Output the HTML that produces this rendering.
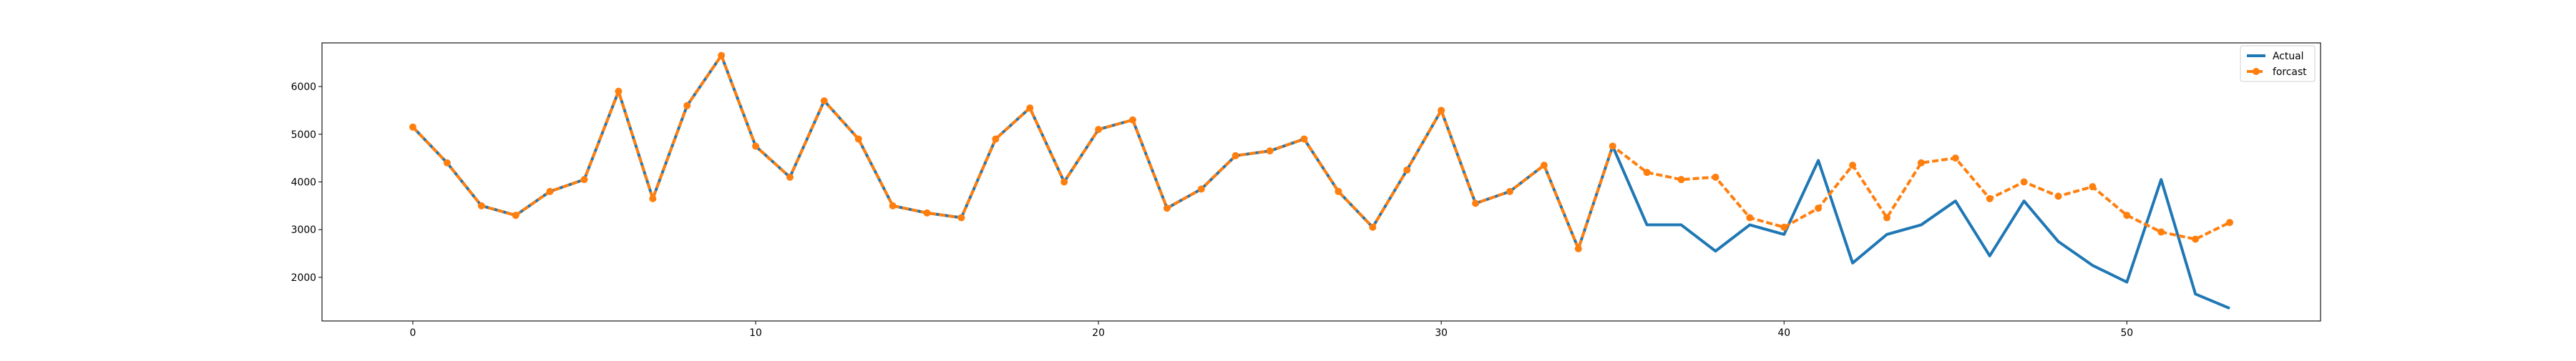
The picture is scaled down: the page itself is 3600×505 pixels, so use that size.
<!DOCTYPE html>
<html><head><meta charset="utf-8"><style>
html,body{margin:0;padding:0;background:#fff;}
svg text{font-family:"DejaVu Sans","Liberation Sans",sans-serif;font-size:13.9px;fill:#000;}
</style></head><body>
<svg id="chart" width="3600" height="500" xmlns="http://www.w3.org/2000/svg">
<rect x="0" y="0" width="3600" height="500" fill="#fff"/>
<g id="plot"></g>
<g id="axes"></g>
<g id="legend">
  <rect x="3131" y="64" width="104" height="50" rx="3" fill="#fff" stroke="#ccc" stroke-width="1" opacity="0.9"/>
  <line x1="3140" y1="78" x2="3166" y2="78" stroke="#1f77b4" stroke-width="4"/>
  <text x="3176" y="83">Actual</text>
  <line x1="3140" y1="100" x2="3166" y2="100" stroke="#ff7f0e" stroke-width="4" stroke-dasharray="9,4"/>
  <circle cx="3153" cy="100" r="5" fill="#ff7f0e"/>
  <text x="3176" y="105">forcast</text>
</g>
</svg>
<script>
const actual = [5150,4400,3500,3300,3800,4050,5900,3650,5600,6650,4750,4100,5700,4900,3500,3350,3250,4900,5550,4000,5100,5300,3450,3850,4550,4650,4900,3800,3050,4250,5500,3550,3800,4350,2600,4750,3100,3100,2550,3100,2900,4450,2300,2900,3100,3600,2450,3600,2750,2250,1900,4050,1650,1350];
const forecast = [5150,4400,3500,3300,3800,4050,5900,3650,5600,6650,4750,4100,5700,4900,3500,3350,3250,4900,5550,4000,5100,5300,3450,3850,4550,4650,4900,3800,3050,4250,5500,3550,3800,4350,2600,4750,4200,4050,4100,3250,3050,3450,4350,3250,4400,4500,3650,4000,3700,3900,3300,2950,2800,3150];
const xTicks = [0,10,20,30,40,50];
const yTicks = [2000,3000,4000,5000,6000];

const L=450,R=3243,T=60,B=449;
const xMin=-2.65,xMax=55.65,yMin=1085,yMax=6915;
const sx=v=>L+(v-xMin)/(xMax-xMin)*(R-L);
const sy=v=>B-(v-yMin)/(yMax-yMin)*(B-T);
const NS='http://www.w3.org/2000/svg';
const plot=document.getElementById('plot'), axes=document.getElementById('axes');
function mk(tag,attrs,parent){const e=document.createElementNS(NS,tag);for(const k in attrs)e.setAttribute(k,attrs[k]);parent.appendChild(e);return e;}

const pa=actual.map((v,i)=>sx(i)+','+sy(v)).join(' ');
const la=mk('polyline',{points:pa,fill:'none',stroke:'#1f77b4','stroke-width':4,'stroke-linejoin':'round'},plot);


const pf=forecast.map((v,i)=>sx(i)+','+sy(v)).join(' ');
const lf=mk('polyline',{points:pf,fill:'none',stroke:'#ff7f0e','stroke-width':4,'stroke-dasharray':'9,4'},plot);


forecast.forEach((v,i)=>{
  const c=mk('circle',{cx:sx(i),cy:sy(v),r:5,fill:'#ff7f0e'},plot);
  
  
});

const frame=mk('rect',{x:L,y:T,width:R-L,height:B-T,fill:'none',stroke:'#000','stroke-width':1.1},axes);


xTicks.forEach(t=>{
  const x=sx(t);
  mk('line',{x1:x,y1:B,x2:x,y2:B+5,stroke:'#000','stroke-width':1},axes);
  const tx=mk('text',{x:x,y:B+21,'text-anchor':'middle'},axes);
  tx.textContent=t;
  
  
});
yTicks.forEach(t=>{
  const y=sy(t);
  mk('line',{x1:L-5,y1:y,x2:L,y2:y,stroke:'#000','stroke-width':1},axes);
  const tx=mk('text',{x:L-8,y:y+5,'text-anchor':'end'},axes);
  tx.textContent=t;
  
  
});
</script>
</body></html>
